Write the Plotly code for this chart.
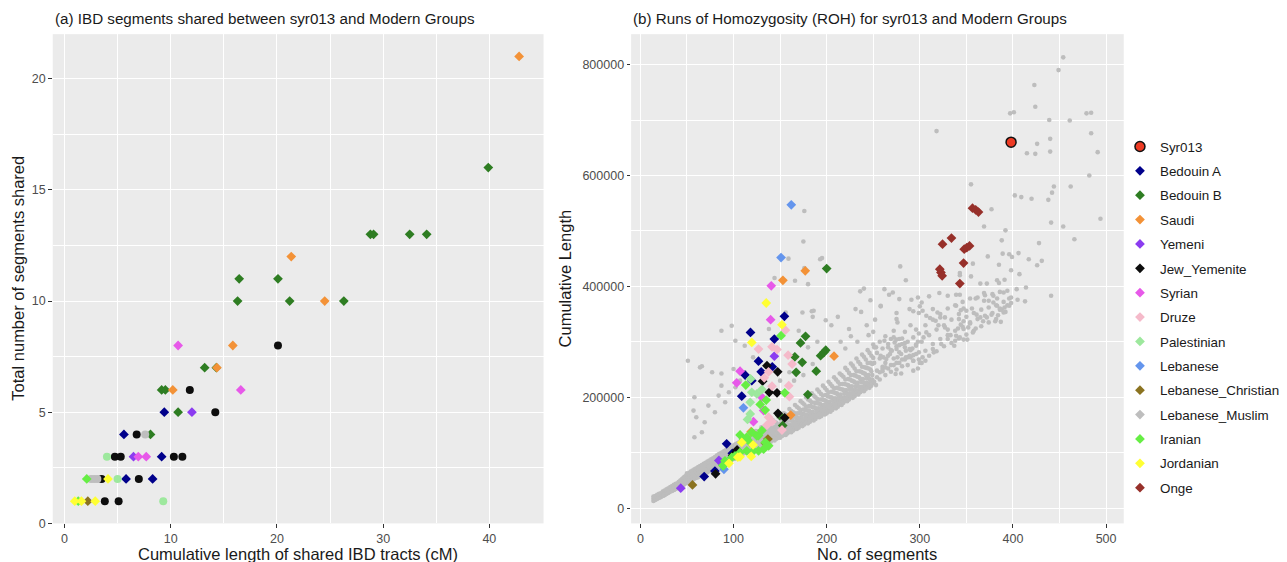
import plotly.graph_objects as go

# ---------------- Panel (a): IBD (cumulative cM, number of segments) ----------------
ibd_bedouin_a = [(5.8, 2), (8.3, 2), (9.15, 3), (5.6, 4), (9.4, 5)]
ibd_bedouin_b = [(8.1, 4), (10.7, 5), (9.15, 6), (9.5, 6), (13.2, 7), (14.3, 7), (16.3, 10), (21.2, 10),
                 (26.3, 10), (16.45, 11), (20.1, 11), (28.8, 13), (29.1, 13), (32.5, 13), (34.1, 13), (39.9, 16)]
ibd_saudi = [(10.2, 6), (14.35, 7), (15.85, 8), (24.5, 10), (21.35, 12), (42.8, 21)]
ibd_yemeni = [(6.5, 3), (12.0, 5)]
ibd_jew_yemenite = [(3.8, 1), (5.1, 1), (3.5, 2), (7.0, 2), (4.75, 3), (5.3, 3), (10.3, 3), (11.1, 3),
                    (6.8, 4), (14.2, 5), (11.8, 6), (20.1, 8)]
ibd_syrian = [(6.95, 3), (7.7, 3), (16.6, 6), (10.7, 8)]
ibd_druze = []
ibd_palestinian = [(9.3, 1), (5.0, 2), (4.0, 3)]
ibd_lebanese = []
ibd_lebanese_christian = [(2.2, 1)]
ibd_lebanese_muslim = [(2.5, 2), (2.8, 2), (3.1, 2), (7.6, 4)]
ibd_iranian = [(1.3, 1), (2.1, 2)]
ibd_jordanian = [(0.97, 1), (1.6, 1), (2.9, 1), (4.1, 2)]
ibd_onge = []

# ---------------- Panel (b): ROH (no. of segments, cumulative length) ----------------
roh_syr013 = [(398, 660000)]
roh_bedouin_a = [(154.6, 346000), (118.2, 317000), (143.8, 305000), (126.8, 265000), (129.7, 246000),
                 (112.4, 240000), (119.6, 230000), (108.8, 202000), (141.6, 255000), (92.6, 116000),
                 (98.7, 99000), (80, 67000), (68.5, 57000)]
roh_bedouin_b = [(200, 432000), (177.3, 310000), (171.9, 298000), (193.5, 275000), (197.1, 281000),
                 (199, 285000), (165.8, 273000), (173.7, 263000), (167.2, 245000), (188.8, 247000),
                 (179.8, 205000), (149.7, 167000), (152.8, 149000)]
roh_saudi = [(177, 428000), (153, 411000), (207.9, 274000), (161.4, 168000), (118.9, 138000)]
roh_yemeni = [(143.8, 274000), (84.3, 86000), (43.3, 36000)]
roh_jew_yemenite = [(135.9, 257000), (147.4, 246000), (131.2, 229000), (138.4, 209000), (146.7, 208000),
                    (147.7, 171000), (154.9, 163000), (103.8, 105000), (80.7, 62000), (99, 95000)]
roh_syrian = [(140.5, 401000), (139.8, 340000), (107, 247000), (103.4, 226000), (132.3, 176000),
              (121.4, 156000), (130.4, 200000)]
roh_druze = [(155.7, 321000), (126.8, 287000), (141.3, 291000), (146.7, 286000), (158.6, 276000),
             (162.9, 260000), (137.6, 246000), (133, 235000), (141.3, 220000), (159.3, 221000),
             (160, 201000), (137.6, 164000), (141.3, 156000), (135.9, 150000), (152, 141000)]
roh_palestinian = [(118.3, 233000), (130.4, 214000), (119.6, 209000), (125, 206000), (117.9, 191000),
                   (117.9, 170000), (115, 160000)]
roh_lebanese = [(162, 547000), (151, 452000), (110.6, 181000), (89.7, 70000)]
roh_lebanese_christian = [(136.9, 124600), (134.1, 117400), (55.9, 42000)]
roh_lebanese_muslim = []
roh_iranian = [(151, 311000), (113.1, 222000), (155, 208000), (135.1, 195000), (128.6, 187000),
               (134, 177000), (107, 132000), (114.2, 128000), (119.6, 137000), (126.8, 131000),
               (130.4, 140000), (125, 130600), (110.6, 124600), (117.9, 118600), (134.1, 118600),
               (137.7, 112600), (132.3, 106500), (126.8, 103500), (121.4, 103500), (114.2, 103500),
               (107, 100500), (101.6, 94500), (98, 91500), (90.8, 85500), (89, 76400), (88.5, 77000)]
roh_jordanian = [(135.1, 370000), (152, 331000), (119.6, 299000), (108.8, 118600), (121, 114000),
                 (107, 92700), (119, 93300), (104.6, 92000), (95.1, 81000)]
roh_onge = [(356.6, 541000), (360, 538000), (363, 534000), (324.4, 476000), (334, 487000),
            (347.7, 467000), (350.5, 470000), (353.4, 473000), (347, 442000), (321.5, 431000),
            (322.7, 425000), (324, 419000), (343, 405000)]

# other individuals (grey background); y values in thousands (k)
roh_others_low_k = [
    (14, 13), (14, 17), (14, 21), (15, 15), (15, 19), (16, 15), (16, 18), (16, 22), (17, 16), (17, 21),
    (18, 17), (18, 20), (18, 24), (19, 18), (19, 22), (20, 19), (20, 21), (20, 26), (21, 20), (21, 24),
    (22, 20), (22, 23), (22, 27), (23, 22), (23, 25), (24, 22), (24, 26), (24, 30), (25, 23), (25, 27),
    (26, 24), (26, 28), (26, 32), (27, 25), (27, 29), (28, 26), (28, 29), (28, 34), (29, 27), (29, 31),
    (30, 28), (30, 32), (30, 36), (31, 29), (31, 33), (32, 30), (32, 34), (32, 38), (33, 31), (33, 35),
    (34, 31), (34, 35), (34, 40), (35, 33), (35, 37), (36, 33), (36, 37), (36, 42), (37, 34), (37, 39),
    (38, 35), (38, 39), (38, 44), (39, 36), (39, 41), (40, 37), (40, 40), (40, 45), (41, 38), (41, 43),
    (41, 47), (42, 39), (42, 42), (42, 48), (43, 40), (43, 45), (43, 50), (44, 41), (44, 44), (44, 51),
    (45, 42), (45, 47), (45, 53), (46, 42), (46, 46), (46, 54), (47, 44), (47, 49), (47, 56), (48, 44),
    (48, 48), (48, 57), (49, 46), (49, 51), (49, 58), (50, 46), (50, 50), (50, 60), (50, 63), (51, 48),
    (51, 53), (51, 61), (52, 48), (52, 52), (52, 62), (53, 50), (53, 55), (53, 64), (54, 49), (54, 54),
    (54, 66), (55, 51), (55, 57), (55, 63), (56, 51), (56, 56), (56, 68), (57, 53), (57, 59), (57, 66),
    (58, 53), (58, 58), (58, 70), (59, 55), (59, 61), (59, 68), (60, 55), (60, 60), (60, 72), (61, 56),
    (61, 63), (61, 70), (62, 56), (62, 62), (62, 74), (63, 58), (63, 65), (63, 72), (64, 58), (64, 64),
    (64, 76), (65, 60), (65, 67), (65, 74), (66, 60), (66, 66), (66, 78), (67, 62), (67, 69), (67, 76),
    (68, 61), (68, 68), (68, 80), (69, 63), (69, 71), (69, 78), (70, 63), (70, 70), (70, 82), (71, 65),
    (71, 73), (71, 80), (72, 65), (72, 72), (72, 84), (73, 67), (73, 75), (73, 82), (74, 67), (74, 74),
    (74, 86), (75, 68), (75, 76), (75, 84), (76, 68), (76, 76), (76, 88), (77, 70), (77, 79), (77, 86),
    (78, 70), (78, 78), (78, 90), (79, 72), (79, 81), (79, 88), (80, 72), (80, 80), (80, 92), (81, 74),
    (81, 83), (81, 90), (82, 73), (82, 82), (82, 95), (83, 75), (83, 85), (83, 92), (84, 75), (84, 84),
    (84, 97), (85, 77), (85, 87), (85, 94), (86, 77), (86, 86), (86, 99), (87, 79), (87, 89), (87, 96),
    (88, 79), (88, 88), (88, 101), (89, 80), (89, 91), (89, 98), (90, 80), (90, 90), (90, 103), (91, 82),
    (91, 93), (91, 100), (92, 82), (92, 92), (92, 105), (93, 84), (93, 95), (93, 102), (94, 84), (94, 94),
    (94, 107), (95, 86), (95, 97), (95, 104), (96, 85), (96, 96), (96, 109), (97, 87), (97, 99), (97, 106),
    (98, 87), (98, 98), (98, 111), (99, 89), (99, 101), (99, 108), (100, 89), (100, 100), (100, 113),
    (101, 91), (101, 103), (101, 110), (102, 90), (102, 102), (102, 115), (103, 92), (103, 105), (103, 112),
    (104, 92), (104, 104), (104, 117), (105, 94), (105, 107), (105, 114), (106, 94), (106, 106), (106, 119),
    (107, 96), (107, 109), (107, 116), (108, 95), (108, 108), (108, 121), (109, 97), (109, 111), (109, 118),
]
roh_others_mid_k = [
    (110, 98), (110, 108), (110, 119), (111, 103), (111, 114), (111, 106), (112, 100), (112, 117), (112, 127),
    (113, 109), (113, 102), (113, 113), (114, 100), (114, 106), (114, 126), (115, 114), (115, 105), (115, 119),
    (116, 102), (116, 113), (116, 124), (117, 107), (117, 119), (117, 110), (118, 105), (118, 123), (118, 134),
    (119, 114), (119, 107), (119, 119), (120, 104), (120, 111), (120, 131), (121, 119), (121, 109), (121, 124),
    (122, 107), (122, 118), (122, 131), (123, 112), (123, 125), (123, 116), (124, 109), (124, 129), (124, 139),
    (125, 119), (125, 112), (125, 124), (126, 109), (126, 116), (126, 138), (127, 125), (127, 114), (127, 130),
    (128, 111), (128, 123), (128, 136), (129, 117), (129, 130), (129, 120), (130, 114), (130, 135), (130, 146),
    (131, 124), (131, 117), (131, 130), (132, 113), (132, 121), (132, 143), (133, 130), (133, 119), (133, 135),
    (134, 116), (134, 129), (134, 142), (135, 122), (135, 136), (135, 126), (136, 118), (136, 140), (136, 152),
    (137, 129), (137, 121), (137, 135), (138, 118), (138, 126), (138, 150), (139, 135), (139, 124), (139, 142),
    (140, 120), (140, 133), (140, 148), (141, 126), (141, 141), (141, 130), (142, 123), (142, 146), (142, 159),
    (143, 135), (143, 126), (143, 141), (144, 122), (144, 130), (144, 156), (145, 140), (145, 128), (145, 147),
    (146, 125), (146, 139), (146, 154), (147, 131), (147, 147), (147, 136), (148, 127), (148, 151), (148, 165),
    (149, 139), (149, 130), (149, 146), (150, 127), (150, 136), (150, 162), (151, 146), (151, 133), (151, 153),
    (152, 130), (152, 145), (152, 161), (153, 137), (153, 152), (153, 141), (154, 132), (154, 158), (154, 171),
    (155, 145), (155, 136), (155, 152), (156, 132), (156, 141), (156, 169), (157, 152), (157, 139), (157, 159),
    (158, 135), (158, 150), (158, 167), (159, 142), (159, 158), (159, 147), (160, 138), (160, 165), (160, 179),
    (161, 150), (161, 141), (161, 158), (162, 137), (162, 147), (162, 175), (163, 158), (163, 144), (163, 165),
    (164, 140), (164, 156), (164, 173), (165, 147), (165, 165), (165, 152), (166, 143), (166, 171), (166, 186),
    (167, 157), (167, 147), (167, 165), (168, 143), (168, 153), (168, 183), (169, 163), (169, 149), (169, 171),
    (170, 145), (170, 162), (170, 180), (171, 153), (171, 171), (171, 158), (172, 149), (172, 177), (172, 193),
    (173, 163), (173, 152), (173, 170), (174, 148), (174, 158), (174, 190), (175, 170), (175, 155), (175, 178),
    (176, 151), (176, 169), (176, 187), (177, 158), (177, 177), (177, 163), (178, 154), (178, 183), (178, 200),
    (179, 168), (179, 157), (179, 176), (180, 153), (180, 164), (180, 196), (181, 176), (181, 161), (181, 184),
    (182, 156), (182, 174), (182, 194), (183, 164), (183, 184), (183, 170), (184, 160), (184, 191), (184, 207),
    (185, 174), (185, 163), (185, 182), (186, 158), (186, 169), (186, 203), (187, 182), (187, 166), (187, 190),
    (188, 161), (188, 180), (188, 200), (189, 170), (189, 190), (189, 175), (190, 165), (190, 197), (190, 214),
    (191, 180), (191, 169), (191, 189), (192, 164), (192, 176), (192, 210), (193, 188), (193, 171), (193, 196),
    (194, 166), (194, 186), (194, 206), (195, 175), (195, 196), (195, 181), (196, 170), (196, 203), (196, 221),
    (197, 186), (197, 174), (197, 195), (198, 169), (198, 181), (198, 217), (199, 194), (199, 177), (199, 204),
    (200, 171), (200, 191), (200, 213),
]
roh_others_high_k = [
    (201, 180), (201, 202), (201, 186), (202, 175), (202, 209), (202, 228), (203, 192), (203, 179), (203, 201),
    (204, 174), (204, 186), (204, 224), (205, 200), (205, 183), (205, 210), (206, 177), (206, 198), (206, 220),
    (207, 187), (207, 209), (207, 193), (208, 181), (208, 216), (208, 236), (209, 198), (209, 185), (209, 208),
    (210, 180), (210, 193), (210, 232), (211, 207), (211, 189), (211, 217), (212, 183), (212, 205), (212, 228),
    (213, 193), (213, 216), (213, 200), (214, 187), (214, 224), (214, 243), (215, 205), (215, 192), (215, 215),
    (216, 186), (216, 199), (216, 240), (217, 214), (217, 195), (217, 224), (218, 190), (218, 213), (218, 237),
    (219, 200), (219, 224), (219, 207), (220, 194), (220, 232), (220, 253), (221, 213), (221, 199), (221, 223),
    (222, 193), (222, 207), (222, 249), (223, 222), (223, 202), (223, 233), (224, 196), (224, 220), (224, 244),
    (225, 207), (225, 232), (225, 214), (226, 201), (226, 240), (226, 261), (227, 220), (227, 205), (227, 230),
    (228, 199), (228, 213), (228, 257), (229, 229), (229, 209), (229, 240), (230, 202), (230, 227), (230, 252),
    (231, 213), (231, 239), (231, 220), (232, 207), (232, 247), (232, 270), (233, 226), (233, 211), (233, 237),
    (234, 205), (234, 220), (234, 264), (235, 236), (235, 215), (235, 247), (236, 209), (236, 233), (236, 260),
    (237, 219), (237, 246), (237, 227), (238, 213), (238, 255), (238, 277), (239, 233), (239, 218), (239, 244),
    (240, 211), (240, 226), (240, 273), (241, 243), (241, 221), (241, 254), (242, 215), (242, 240), (242, 268),
    (243, 226), (243, 253), (243, 234), (244, 219), (244, 262), (244, 285), (245, 240), (245, 224), (245, 252),
    (246, 217), (246, 233), (246, 280), (247, 250), (247, 228), (247, 262), (248, 221), (248, 247), (248, 275),
    (249, 232), (249, 260), (249, 240), (250, 226), (250, 271), (250, 295),
    (251, 228), (251, 262), (251, 290), (254, 236), (254, 248), (254, 280), (257, 232), (257, 270), (257, 300),
    (260, 247), (260, 255), (260, 288), (263, 240), (263, 262), (263, 310), (266, 252), (266, 275), (266, 296),
    (269, 246), (269, 258), (269, 285), (272, 258), (272, 270), (272, 320), (275, 250), (275, 262), (275, 292),
    (278, 262), (278, 281), (278, 305), (281, 256), (281, 268), (281, 296), (284, 268), (284, 290), (284, 318),
    (287, 258), (287, 272), (287, 300), (290, 272), (290, 285), (290, 330), (293, 266), (293, 276), (293, 308),
    (296, 278), (296, 295), (296, 322), (299, 268), (299, 281), (299, 315),
    (302, 262), (302, 300), (306, 284), (306, 330), (310, 275), (310, 312), (314, 296), (314, 340), (318, 283),
    (318, 322), (322, 305), (322, 350), (326, 292), (326, 330), (330, 312), (330, 360), (334, 298), (334, 340),
    (338, 320), (338, 366), (342, 306), (342, 350), (346, 327), (346, 372), (350, 313), (350, 345), (354, 333),
    (354, 378), (358, 320), (358, 352), (362, 341), (362, 380), (366, 328), (366, 358), (370, 347), (370, 384),
    (374, 335), (374, 362), (378, 352), (378, 386), (382, 341), (382, 366), (386, 358), (386, 390), (390, 353),
    (390, 372), (394, 366), (394, 392), (398, 370), (398, 380),
]
roh_others_right_k = [
    (267, 385), (271, 389), (258, 364), (278, 377), (291, 376), (298, 380), (302, 371), (310, 382), (321, 388),
    (330, 383), (339, 385), (343, 385), (360, 378), (369, 388), (379, 383), (390, 389), (404, 395), (414, 398),
    (369, 374), (374, 374), (379, 371), (383, 378), (396, 378), (405, 376), (413, 373), (441, 383), (383, 365),
    (386, 360), (388, 358), (392, 354), (396, 365), (391, 362), (289, 359), (293, 355), (300, 364), (303, 356),
    (299, 352), (275, 352), (275, 341), (276, 335), (307, 347), (311, 343), (314, 359), (319, 353), (322, 344),
    (327, 344), (317, 338), (320, 330), (327, 326), (330, 322), (339, 365), (344, 357), (347, 360), (350, 356),
    (356, 360), (361, 349), (365, 344), (372, 344), (377, 349), (384, 348), (387, 336), (381, 337), (368, 337),
    (342, 341), (347, 337), (344, 331), (341, 324), (347, 323), (352, 326), (354, 335), (357, 317), (360, 324),
    (333, 312), (339, 311), (343, 308), (347, 304), (351, 304), (338, 302), (330, 305), (323, 296), (337, 293),
    (314, 287), (315, 281), (307, 317), (304, 308), (298, 300), (296, 293), (292, 288), (289, 287), (289, 275),
    (293, 266), (300, 262), (303, 272), (306, 266), (298, 252), (262, 302), (266, 290), (269, 305), (272, 308),
    (273, 299), (275, 304), (278, 294), (281, 306), (284, 298), (275, 287), (270, 284), (268, 278), (261, 272),
    (258, 275), (264, 269), (276, 272), (280, 278), (285, 272), (285, 284), (260, 251), (263, 254), (257, 245),
    (253, 222), (274, 242), (280, 243), (293, 248), (253, 290),
]
roh_others_sparse_k = [
    (454, 813), (449, 790), (423, 763), (424, 724), (397, 712), (401, 714), (479, 712), (484, 713), (439, 700),
    (461, 699), (318, 680), (484, 676), (426, 657), (440, 666), (415, 640), (424, 639), (440, 643), (491, 642),
    (482, 600), (355, 584), (444, 580), (462, 580), (442, 569), (402, 564), (409, 561), (420, 558), (438, 556),
    (377, 539), (494, 522), (441, 515), (454, 508), (369, 508), (392, 501), (466, 485), (388, 483), (428, 478),
    (389, 459), (396, 458), (399, 453), (406, 460), (373, 454), (417, 449), (431, 446), (426, 438), (357, 441),
    (385, 439), (398, 429), (407, 422), (279, 436), (285, 411), (343, 424), (343, 420), (355, 418), (365, 405),
    (372, 405), (385, 406), (391, 412), (383, 411),
    (176, 536), (175, 481), (159, 450), (193, 449), (176, 433), (144, 415), (166, 410), (180, 404),
    (184, 355), (224, 323), (236, 391), (237, 354), (247, 375), (195, 451), (156, 353), (174, 353), (186, 356),
    (138, 323), (231, 359), (240, 396), (51, 266), (66, 256), (77, 245), (87, 243), (98, 329), (87, 320),
    (64, 254), (58, 200), (57, 176), (60, 164), (69, 155), (80, 173), (66, 137), (58, 128), (91, 191), (95, 209),
    (102, 218), (107, 230), (112, 245), (87, 221), (84, 203), (73, 185), (100, 251), (112, 293), (121, 272),
    (102, 302), (205, 330), (212, 345), (226, 310), (215, 300), (243, 330), (252, 340), (258, 365), (262, 395),
    (250, 318), (233, 300), (220, 288), (245, 312), (185, 345), (199, 339), (170, 320), (180, 290), (190, 300),
    (165, 230), (175, 240), (185, 260), (150, 230), (160, 245),
]
roh_others_k = (roh_others_low_k + roh_others_mid_k + roh_others_high_k
                + roh_others_right_k + roh_others_sparse_k)

groups = ["Syr013", "Bedouin A", "Bedouin B", "Saudi", "Yemeni", "Jew_Yemenite", "Syrian", "Druze",
          "Palestinian", "Lebanese", "Lebanese_Christian", "Lebanese_Muslim", "Iranian", "Jordanian", "Onge"]
colors = ["#EE3B24", "#00008B", "#2E7D22", "#F39237", "#8B3CF0", "#0D0D0D", "#E759E9", "#F5BACA",
          "#9DE89D", "#6495ED", "#8B7320", "#BEBEBE", "#66EE44", "#FFFF33", "#97302A"]
ibd_data = [[], ibd_bedouin_a, ibd_bedouin_b, ibd_saudi, ibd_yemeni, ibd_jew_yemenite, ibd_syrian, ibd_druze,
            ibd_palestinian, ibd_lebanese, ibd_lebanese_christian, ibd_lebanese_muslim, ibd_iranian,
            ibd_jordanian, ibd_onge]
roh_data = [roh_syr013, roh_bedouin_a, roh_bedouin_b, roh_saudi, roh_yemeni, roh_jew_yemenite, roh_syrian,
            roh_druze, roh_palestinian, roh_lebanese, roh_lebanese_christian, roh_lebanese_muslim,
            roh_iranian, roh_jordanian, roh_onge]
ibd_circle_groups = {"Jew_Yemenite", "Palestinian", "Lebanese_Muslim"}

FONT = "Liberation Sans, Arial, sans-serif"
fig = go.Figure()

# grey background individuals (panel b); thousands -> units
fig.add_trace(go.Scatter(
    x=[p[0] for p in roh_others_k], y=[p[1] * 1000 for p in roh_others_k], mode="markers",
    marker=dict(symbol="circle", size=4.6, color="#BDBDBD"), showlegend=False,
    xaxis="x2", yaxis="y2", hoverinfo="skip"))

for rank, (g, c, ibd, roh) in enumerate(zip(groups, colors, ibd_data, roh_data)):
    if g == "Syr013":
        continue
    if ibd:
        circ = g in ibd_circle_groups
        fig.add_trace(go.Scatter(
            x=[p[0] for p in ibd], y=[p[1] for p in ibd], mode="markers", name=g, legendgroup=g,
            marker=dict(symbol="circle" if circ else "diamond", size=8 if circ else 7.5, color=c,
                        line=dict(width=0)),
            showlegend=False, xaxis="x", yaxis="y"))
    fig.add_trace(go.Scatter(
        x=[p[0] for p in roh] if roh else [None], y=[p[1] for p in roh] if roh else [None],
        mode="markers", name=g, legendgroup=g, legendrank=rank + 1,
        marker=dict(symbol="diamond", size=7.5, color=c, line=dict(width=0)),
        showlegend=True, xaxis="x2", yaxis="y2"))

fig.add_trace(go.Scatter(
    x=[p[0] for p in roh_syr013], y=[p[1] for p in roh_syr013], mode="markers", name="Syr013",
    legendgroup="Syr013", legendrank=1,
    marker=dict(symbol="circle", size=10, color="#EE3B24", line=dict(width=1.5, color="#111111")),
    showlegend=True, xaxis="x2", yaxis="y2"))

axis_common = dict(showgrid=True, gridcolor="white", gridwidth=1.2, zeroline=False, showline=False,
                   ticks="outside", ticklen=3.5, tickwidth=1, tickcolor="#333333",
                   tickfont=dict(family=FONT, size=12.5, color="#4D4D4D"))
minor_common = dict(showgrid=True, gridcolor="white", gridwidth=0.6, ticks="")
ydom = [0.07132, 0.95288]
fig.update_layout(
    width=1287, height=562, margin=dict(l=0, r=0, t=0, b=0),
    paper_bgcolor="white", plot_bgcolor="#EBEBEB",
    font=dict(family=FONT, color="#1A1A1A"),
    xaxis=dict(domain=[0.03478, 0.41612], range=[-1.1, 45.1], tickvals=[0, 10, 20, 30, 40],
               minor=dict(tickvals=[5, 15, 25, 35], **minor_common), anchor="y", **axis_common),
    yaxis=dict(domain=ydom, range=[0, 22], tickvals=[0, 5, 10, 15, 20],
               minor=dict(tickvals=[2.5, 7.5, 12.5, 17.5], **minor_common), anchor="x", **axis_common),
    xaxis2=dict(domain=[0.48415, 0.86694], range=[-10, 519], tickvals=[0, 100, 200, 300, 400, 500],
                minor=dict(tickvals=[50, 150, 250, 350, 450], **minor_common), anchor="y2", **axis_common),
    yaxis2=dict(domain=ydom, range=[-27450, 854800], tickvals=[0, 200000, 400000, 600000, 800000],
                tickformat="d", minor=dict(tickvals=[100000, 300000, 500000, 700000], **minor_common),
                anchor="x2", **axis_common),
    legend=dict(x=0.8640, xanchor="left", y=0.77794, yanchor="top", tracegroupgap=3.95,
                font=dict(family=FONT, size=13.4, color="#1A1A1A"), bgcolor="rgba(0,0,0,0)",
                itemclick=False, itemdoubleclick=False),
    showlegend=True,
)

ann = [
    dict(text="(a) IBD segments shared between syr013 and Modern Groups", x=0.03478, y=0.98174,
         xanchor="left", yanchor="middle", font=dict(size=15.2)),
    dict(text="(b) Runs of Homozygosity (ROH) for syr013 and Modern Groups", x=0.48436, y=0.98174,
         xanchor="left", yanchor="middle", font=dict(size=15.2)),
    dict(text="Cumulative length of shared IBD tracts (cM)", x=0.22538, y=0.01628,
         xanchor="center", yanchor="middle", font=dict(size=16.5)),
    dict(text="No. of segments", x=0.67526, y=0.01628, xanchor="center", yanchor="middle", font=dict(size=16.5)),
    dict(text="Total number of segments shared", x=0.00709, y=0.51254, textangle=-90,
         xanchor="center", yanchor="middle", font=dict(size=16.5)),
    dict(text="Cumulative Length", x=0.43271, y=0.51254, textangle=-90,
         xanchor="center", yanchor="middle", font=dict(size=16.5)),
]
for a in ann:
    a.update(xref="paper", yref="paper", showarrow=False)
    a["font"].update(family=FONT, color="#1A1A1A")
fig.update_layout(annotations=ann)

fig.write_html("out.html", config={"displayModeBar": False})
